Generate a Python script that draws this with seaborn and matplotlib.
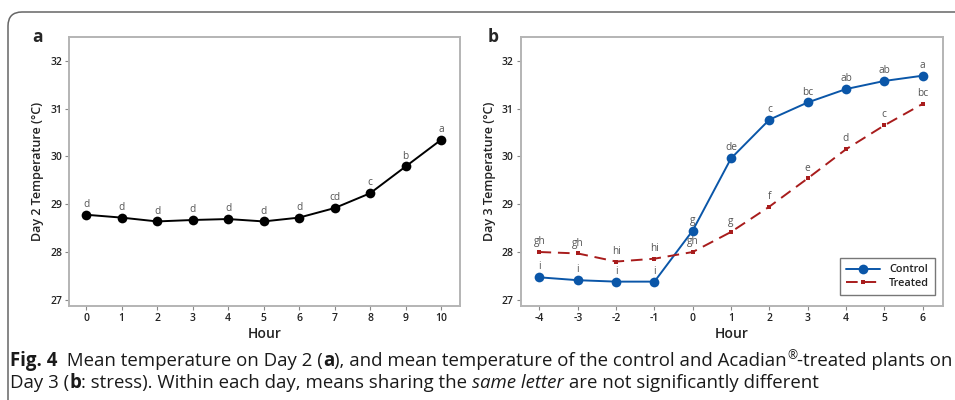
import matplotlib
matplotlib.use("Agg")
import matplotlib.pyplot as plt
from matplotlib import font_manager
from matplotlib.patches import FancyBboxPatch
from matplotlib.transforms import IdentityTransform
import seaborn as sns
import pandas as pd

# Panel a: Day 2
hours_a = [0, 1, 2, 3, 4, 5, 6, 7, 8, 9, 10]
temp_day2 = [28.78, 28.72, 28.64, 28.67, 28.69, 28.64, 28.72, 28.92, 29.23, 29.79, 30.35]
letters_day2 = ["d", "d", "d", "d", "d", "d", "d", "cd", "c", "b", "a"]

# Panel b: Day 3 (stress)
hours_b = [-4, -3, -2, -1, 0, 1, 2, 3, 4, 5, 6]
temp_control = [27.47, 27.41, 27.38, 27.38, 28.45, 29.96, 30.77, 31.13, 31.41, 31.58, 31.69]
temp_treated = [28.00, 27.97, 27.80, 27.86, 28.00, 28.42, 28.95, 29.54, 30.15, 30.65, 31.10]
letters_control = ["i", "i", "i", "i", "g", "de", "c", "bc", "ab", "ab", "a"]
letters_treated = ["gh", "gh", "hi", "hi", "gh", "g", "f", "e", "d", "c", "bc"]

y_ticks = [27, 28, 29, 30, 31, 32]

sns.set_style("white")
plt.rcParams["font.family"] = ["Open Sans", "DejaVu Sans"]
plt.rcParams["axes.unicode_minus"] = False

W, H = 955, 400
fig = plt.figure(figsize=(W / 100, H / 100), dpi=100)


def px_axes(left, top, right, bottom):
    return fig.add_axes([left / W, 1 - bottom / H, (right - left) / W, (bottom - top) / H])


def style_axes(ax, xticks, xlim, ylabel):
    ax.set_xlim(*xlim)
    ax.set_ylim(26.87, 32.5)
    ax.set_xticks(xticks)
    ax.set_yticks(y_ticks)
    for sp in ax.spines.values():
        sp.set_color("#b4b4b4")
        sp.set_linewidth(1.4)
    ax.tick_params(axis="both", direction="out", length=3, width=0.8, color="#888888",
                   labelsize=7.5, labelcolor="#222222", pad=2, bottom=True, left=True)
    for lab in ax.get_xticklabels() + ax.get_yticklabels():
        lab.set_fontweight("semibold")
    ax.set_xlabel("Hour", fontsize=10, fontweight="semibold", color="#222222", labelpad=2)
    ax.set_ylabel(ylabel, fontsize=9, fontweight="semibold", color="#222222", labelpad=4)


def add_letters(ax, xs, ys, letters):
    for x, y, s in zip(xs, ys, letters):
        ax.annotate(s, (x, y), xytext=(0, 7.5), textcoords="offset points",
                    ha="center", va="center", fontsize=7.3, color="#555555")


# ---- panel a
ax_a = px_axes(69, 37, 460, 306)
sns.lineplot(x=hours_a, y=temp_day2, ax=ax_a, color="black", marker="o",
             markersize=7, linewidth=1.4, markeredgewidth=0)
add_letters(ax_a, hours_a, temp_day2, letters_day2)
style_axes(ax_a, hours_a, (-0.48, 10.53), "Day 2 Temperature (\u00b0C)")

# ---- panel b
df_b = pd.DataFrame({
    "Hour": hours_b * 2,
    "Temp": temp_control + temp_treated,
    "Group": ["Control"] * len(hours_b) + ["Treated"] * len(hours_b),
})
ax_b = px_axes(520.7, 37, 943.3, 306)
sns.lineplot(data=df_b[df_b.Group == "Control"], x="Hour", y="Temp", ax=ax_b,
             color="#0a56a8", marker="o", markersize=7, linewidth=1.4,
             markeredgewidth=0, label="Control")
sns.lineplot(data=df_b[df_b.Group == "Treated"], x="Hour", y="Temp", ax=ax_b,
             color="#a81c1c", marker="s", markersize=3.5, linewidth=1.4,
             markeredgewidth=0, dashes=False, label="Treated")
ax_b.lines[-1].set_dashes((6, 3.5))
add_letters(ax_b, hours_b, temp_control, letters_control)
add_letters(ax_b, hours_b, temp_treated, letters_treated)
style_axes(ax_b, hours_b, (-4.49, 6.54), "Day 3 Temperature (\u00b0C)")
leg = ax_b.legend(loc="lower right", bbox_to_anchor=(0.98, 0.041), borderaxespad=0,
                  fontsize=7.8, frameon=True, fancybox=False, edgecolor="#555555",
                  handlelength=3.2, borderpad=0.55, labelspacing=0.25)
leg.get_frame().set_linewidth(1.0)
for t in leg.get_texts():
    t.set_fontweight("semibold")
    t.set_color("#222222")

# panel letters
fig.text(37 / W, 1 - 37 / H, "a", fontsize=12.5, fontweight="bold", ha="center", va="center")
fig.text(493 / W, 1 - 37 / H, "b", fontsize=12.5, fontweight="bold", ha="center", va="center")

# rounded frame around the figure
frame = FancyBboxPatch((8, -40), 1100, H - 12 + 40, boxstyle="round,pad=0,rounding_size=14",
                       transform=IdentityTransform(), facecolor="none",
                       edgecolor="#666666", linewidth=1.1)
fig.patches.append(frame)

# caption, mixed weights drawn piece by piece
cap_family = ["Open Sans", "DejaVu Sans"]
try:
    font_manager.findfont("Liberation Sans Narrow", fallback_to_default=False)
    cap_family = ["Liberation Sans Narrow", "DejaVu Sans"]
except Exception:
    pass

line1 = [("Fig. 4", "bold", "normal", 0), ("  Mean temperature on Day 2 (", "normal", "normal", 0),
         ("a", "bold", "normal", 0), ("), and mean temperature of the control and Acadian", "normal", "normal", 0),
         ("\u00ae", "normal", "normal", 1), ("-treated plants on", "normal", "normal", 0)]
line2 = [("Day 3 (", "normal", "normal", 0), ("b", "bold", "normal", 0),
         (": stress). Within each day, means sharing the ", "normal", "normal", 0),
         ("same letter", "normal", "italic", 0), (" are not significantly different", "normal", "normal", 0)]

renderer = fig.canvas.get_renderer()


def draw_line(pieces, x0, y0, fs, keep=True):
    x = x0
    made = []
    for s, w, st, sup in pieces:
        size = fs * 0.65 if sup else fs
        yy = y0 - (fs * 0.55 if sup else 0)
        t = fig.text(x / W, 1 - yy / H, s, fontsize=size, fontweight=w, fontstyle=st,
                     family=cap_family, color="#1a1a1a", ha="left", va="baseline")
        x += t.get_window_extent(renderer).width
        made.append(t)
    if not keep:
        for t in made:
            t.remove()
    return x - x0


base = 12
w1 = draw_line(line1, 10, 366, base, keep=False)
fs = base * 936 / w1
draw_line(line1, 10, 366, fs)
draw_line(line2, 10, 388, fs)

fig.savefig("out.png", dpi=100)
